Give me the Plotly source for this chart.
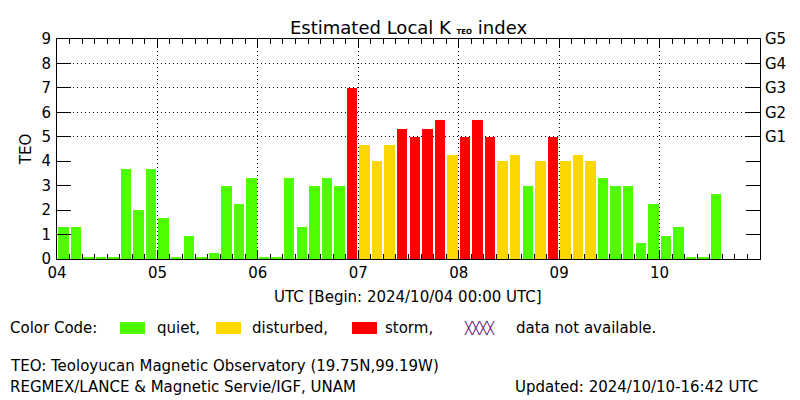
import plotly.graph_objects as go
import pandas as pd
import numpy as np

# ---- data ----
start = "2024-10-04 00:00"
kp = [1.3, 1.3, 0, 0, 0, 3.67, 2, 3.67,
      1.67, 0, 0.95, 0, 0.25, 3, 2.27, 3.3,
      0, 0, 3.3, 1.3, 3, 3.3, 3, 7,
      4.67, 4, 4.67, 5.3, 5, 5.3, 5.67, 4.27,
      5, 5.67, 5, 4, 4.27, 3, 4, 5,
      4, 4.27, 4, 3.3, 3, 3, 0.67, 2.27,
      0.95, 1.3, 0, 0, 2.67]
day_ticks = ["2024-10-04", "2024-10-05", "2024-10-06", "2024-10-07",
             "2024-10-08", "2024-10-09", "2024-10-10", "2024-10-11"]
day_labels = ["04", "05", "06", "07", "08", "09", "10", ""]
g_vals = [5, 6, 7, 8, 9]
g_labels = ["G1", "G2", "G3", "G4", "G5"]

GREEN, YELLOW, RED = "#4dff00", "#ffd700", "#ff0000"
PURPLE = "#5a0a6e"
FONT = "DejaVu Sans ExtraLight, DejaVu Sans"

times = pd.date_range(start, periods=len(kp), freq="3h")
kp_arr = np.array(kp, dtype=float)
shown = np.where(kp_arr == 0, 0.06, kp_arr)
colors = [RED if v >= 5 else (YELLOW if v >= 4 else GREEN) for v in kp]

H3 = 3 * 3600 * 1000

fig = go.Figure()
fig.add_trace(go.Bar(
    x=times, y=shown, marker=dict(color=colors, line=dict(width=0)),
    xperiod=H3, xperiodalignment="middle", width=2.5 * 3600 * 1000,
    customdata=kp, hovertemplate="%{x}<br>K=%{customdata}<extra></extra>",
    showlegend=False))
fig.add_trace(go.Scatter(x=[times[0]], y=[0], yaxis="y2", mode="markers",
                         marker=dict(opacity=0), showlegend=False, hoverinfo="skip"))
fig.add_trace(go.Scatter(x=[times[0]], y=[0], yaxis="y3", mode="markers",
                         marker=dict(opacity=0), showlegend=False, hoverinfo="skip"))

L, R, T, B = 57, 760, 39, 259
def px(x):
    return (x - L) / (R - L)
def py(y):
    return (B - y) / (B - T)

fig.update_layout(
    width=800, height=400,
    margin=dict(l=L, r=800 - R, t=T, b=400 - B, pad=0),
    paper_bgcolor="white", plot_bgcolor="white",
    font=dict(family=FONT, size=14, color="black"),
    bargap=0,
    xaxis=dict(
        type="date", range=[day_ticks[0], day_ticks[-1]],
        tickvals=day_ticks, ticktext=day_labels,
        ticks="inside", ticklen=9, tickwidth=1, tickcolor="black",
        showline=True, linecolor="black", linewidth=1, mirror="ticks",
        showgrid=True, gridcolor="black", griddash="1px,3px", gridwidth=1,
        zeroline=False, tickfont=dict(size=15),
        minor=dict(dtick=H3, tick0=start, ticks="inside", ticklen=5,
                   tickcolor="black", showgrid=False),
    ),
    yaxis=dict(
        range=[0, 9], tickvals=list(range(10)),
        ticks="inside", ticklen=14, tickcolor="black", tickwidth=1,
        showline=True, linecolor="black", linewidth=1, mirror=True,
        showgrid=False, zeroline=False, tickfont=dict(size=15),
        ticklabelstandoff=2,
        title=dict(text="TEO", font=dict(size=15), standoff=6),
    ),
    yaxis2=dict(
        range=[0, 9], overlaying="y", side="right",
        tickvals=list(range(10)),
        ticktext=["", "", "", "", ""] + g_labels,
        ticks="inside", ticklen=14, tickcolor="black",
        showgrid=False, zeroline=False, showline=False,
        tickfont=dict(size=15), ticklabelstandoff=4,
    ),
    yaxis3=dict(
        range=[0, 9], overlaying="y", side="left",
        tickvals=g_vals[:-1], showticklabels=False, ticks="",
        showgrid=True, gridcolor="black", griddash="1px,3px", gridwidth=1,
        zeroline=False, showline=False,
    ),
)

ann = []
def text(x, y, s, anchor="left", size=15, color="black", family=FONT):
    ann.append(dict(x=px(x), y=py(y), xref="paper", yref="paper", text=s,
                    showarrow=False, xanchor=anchor, yanchor="middle",
                    font=dict(family=family, size=size, color=color)))

text(408, 27, "Estimated Local K <span style='font-size:7px;font-family:DejaVu Sans;font-weight:bold'>TEO</span> index",
     anchor="center", size=18)
text(408, 297, "UTC [Begin: 2024/10/04 00:00 UTC]", anchor="center")
text(8, 328, "Color Code:")
text(155, 328, "quiet,")
text(250, 328, "disturbed,")
text(383, 328, "storm,")
text(462, 327, "╳╳╳╳", color=PURPLE, size=12, family="DejaVu Sans Mono")
text(514, 328, "data not available.")
text(8, 366, "TEO: Teoloyucan Magnetic Observatory (19.75N,99.19W)")
text(8, 387, "REGMEX/LANCE &amp; Magnetic Servie/IGF, UNAM")
text(760, 387, "Updated: 2024/10/10-16:42 UTC", anchor="right")
fig.update_layout(annotations=ann)

shapes = []
for x0, c in [(120, GREEN), (216, YELLOW), (352, RED)]:
    shapes.append(dict(type="rect", xref="paper", yref="paper",
                       x0=px(x0), x1=px(x0 + 25), y0=py(334), y1=py(322),
                       fillcolor=c, line=dict(width=0)))
fig.update_layout(shapes=shapes)

fig.write_html("out.html")
